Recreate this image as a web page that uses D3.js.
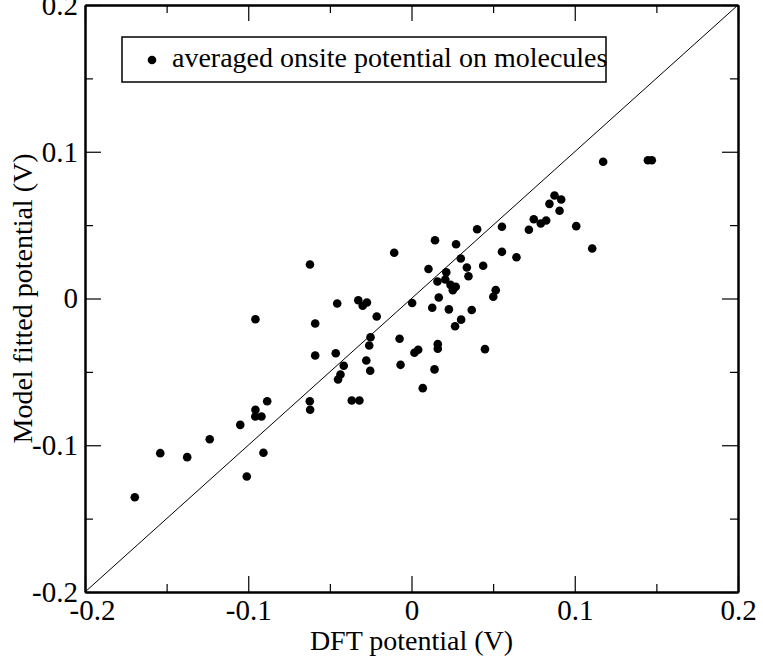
<!DOCTYPE html>
<html>
<head>
<meta charset="utf-8">
<script src="https://cdn.jsdelivr.net/npm/d3@7"></script>
<style>
  body { margin: 0; background: #fff; }
  text { font-family: "Liberation Serif", "Times New Roman", serif; fill: #000; }
</style>
</head>
<body>
<div class="chart"></div>
<script>
// DFT potential (x) vs model fitted potential (y), in volts
const dftPotential = [
  -0.0590, -0.0884, -0.0956, -0.0957, -0.0919, -0.1049, -0.0623, -0.0621, -0.1236, -0.1539,
  -0.1374, -0.0907, -0.1009, -0.1695, -0.0622, -0.0956, -0.0590, -0.0106, 0.0144, 0.0273,
  0.0402, 0.0554, 0.0554, 0.0643, 0.0302, 0.0104, 0.0339, 0.0349, 0.0439, 0.0213,
  0.0159, 0.0207, 0.0239, 0.0271, 0.0253, 0.0516, 0.0501, 0.0167, -0.0455, -0.0326,
  -0.0299, -0.0273, -0.0213, 0.0004, 0.0127, 0.0229, 0.0369, 0.0304, 0.0267, -0.0464,
  -0.0251, -0.0259, -0.0073, -0.0415, -0.0435, -0.0450, -0.0277, -0.0253, -0.0067, 0.0018,
  0.0041, 0.0161, 0.0161, 0.0141, 0.0450, 0.0069, -0.0366, -0.0319, 0.1174, 0.1448,
  0.1472, 0.0876, 0.0917, 0.0845, 0.0907, 0.0749, 0.0825, 0.0792, 0.0719, 0.1009,
  0.1107
];
const fittedPotential = [
  -0.0388, -0.0700, -0.0758, -0.0804, -0.0804, -0.0861, -0.0700, -0.0758, -0.0959, -0.1054,
  -0.1081, -0.1051, -0.1213, -0.1354, 0.0232, -0.0141, -0.0170, 0.0312, 0.0397, 0.0370,
  0.0472, 0.0489, 0.0318, 0.0281, 0.0273, 0.0201, 0.0211, 0.0152, 0.0223, 0.0179,
  0.0116, 0.0129, 0.0093, 0.0080, 0.0057, 0.0057, 0.0012, 0.0007, -0.0034, -0.0012,
  -0.0049, -0.0027, -0.0123, -0.0031, -0.0063, -0.0074, -0.0078, -0.0144, -0.0189, -0.0373,
  -0.0264, -0.0320, -0.0274, -0.0458, -0.0518, -0.0552, -0.0422, -0.0492, -0.0452, -0.0370,
  -0.0349, -0.0311, -0.0342, -0.0483, -0.0345, -0.0611, -0.0695, -0.0695, 0.0932, 0.0942,
  0.0942, 0.0702, 0.0675, 0.0645, 0.0598, 0.0540, 0.0532, 0.0511, 0.0468, 0.0493,
  0.0341
];

const axisRange = [-0.2, 0.2];
const majorTicks = [-0.2, -0.1, 0, 0.1, 0.2];
const majorLabels = ["-0.2", "-0.1", "0", "0.1", "0.2"];
const minorTicks = [-0.15, -0.05, 0.05, 0.15];

const legendLabel = "averaged onsite potential on molecules";
const xTitle = "DFT potential (V)";
const yTitle = "Model fitted potential (V)";

// Margins and size
const margin = {top: 5, left: 85, right: 25, bottom: 69};
const width = 763 - margin.left - margin.right;
const height = 661 - margin.top - margin.bottom;

const svg = d3.select(".chart").append("svg")
    .attr("width", 763)
    .attr("height", 661)
  .append("g")
    .attr("transform", `translate(${margin.left},${margin.top})`);

const xScale = d3.scaleLinear().domain(axisRange).range([0, width]);
const yScale = d3.scaleLinear().domain(axisRange).range([height, 0]);

const fmt = d => majorLabels[majorTicks.indexOf(d)];

// Major ticks pointing inward, labels on bottom and left only
const xAxis = d3.axisBottom(xScale).tickValues(majorTicks).tickFormat(fmt)
    .tickSizeInner(-16).tickSizeOuter(0).tickPadding(7);
const yAxis = d3.axisLeft(yScale).tickValues(majorTicks).tickFormat(fmt)
    .tickSizeInner(-16).tickSizeOuter(0).tickPadding(7);
const xTop = d3.axisTop(xScale).tickValues(majorTicks).tickFormat("")
    .tickSizeInner(-16).tickSizeOuter(0);
const yRight = d3.axisRight(yScale).tickValues(majorTicks).tickFormat("")
    .tickSizeInner(-16).tickSizeOuter(0);

// Minor ticks
const minor = (gen, scale) => gen(scale).tickValues(minorTicks).tickFormat("")
    .tickSizeInner(-8).tickSizeOuter(0);

function styleAxis(g) {
  g.select(".domain").attr("stroke", "#000").attr("stroke-width", 2);
  g.selectAll(".tick line").attr("stroke", "#000").attr("stroke-width", 1.2);
  g.selectAll(".tick text").style("font-size", "29px").attr("fill", "#000");
}

const xAxisG = svg.append("g").attr("transform", `translate(0,${height})`).call(xAxis).call(styleAxis);
// first x label sits a little to the right, clear of the y label
xAxisG.selectAll(".tick text").filter(d => d === axisRange[0]).attr("dx", 7);
svg.append("g").call(yAxis).call(styleAxis);
svg.append("g").call(xTop).call(styleAxis);
svg.append("g").attr("transform", `translate(${width},0)`).call(yRight).call(styleAxis);
svg.append("g").attr("transform", `translate(0,${height})`).call(minor(d3.axisBottom, xScale)).call(styleAxis);
svg.append("g").call(minor(d3.axisLeft, yScale)).call(styleAxis);
svg.append("g").call(minor(d3.axisTop, xScale)).call(styleAxis);
svg.append("g").attr("transform", `translate(${width},0)`).call(minor(d3.axisRight, yScale)).call(styleAxis);

// y = x reference line
svg.append("line")
    .attr("x1", xScale(axisRange[0])).attr("y1", yScale(axisRange[0]))
    .attr("x2", xScale(axisRange[1])).attr("y2", yScale(axisRange[1]))
    .attr("stroke", "#000").attr("stroke-width", 1);

// Points
svg.append("g").selectAll("circle")
    .data(dftPotential.map((d, i) => [d, fittedPotential[i]]))
    .join("circle")
    .attr("cx", d => xScale(d[0]))
    .attr("cy", d => yScale(d[1]))
    .attr("r", 4.3)
    .attr("fill", "#000");

// Legend
const legend = svg.append("g").attr("transform", "translate(37,32)");
legend.append("rect")
    .attr("x", 0).attr("y", 0).attr("width", 484).attr("height", 45)
    .attr("fill", "#fff").attr("stroke", "#000").attr("stroke-width", 1.5);
legend.append("circle").attr("cx", 30).attr("cy", 23).attr("r", 4.3).attr("fill", "#000");
legend.append("text").attr("x", 50).attr("y", 30).style("font-size", "28px").text(legendLabel);

// Axis titles
svg.append("text")
    .attr("x", width / 2).attr("y", height + 58)
    .attr("text-anchor", "middle").style("font-size", "28px")
    .text(xTitle);
svg.append("text")
    .attr("transform", `translate(${-53},${height / 2}) rotate(-90)`)
    .attr("text-anchor", "middle").style("font-size", "28px")
    .text(yTitle);
</script>
</body>
</html>
